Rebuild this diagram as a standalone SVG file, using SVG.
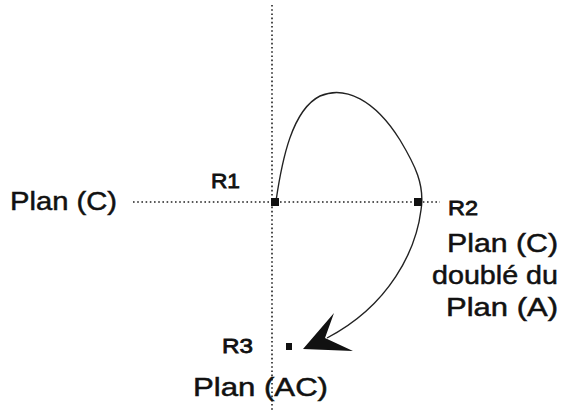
<svg xmlns="http://www.w3.org/2000/svg" width="571" height="412" viewBox="0 0 571 412">
<style>
.t{font-family:"Liberation Sans",Arial,sans-serif;fill:#111;stroke:#111;stroke-width:0.5}
.big{font-size:26px}
.r{font-size:21px;stroke-width:0.8}
.dot{stroke:#222;stroke-width:1.6;stroke-dasharray:1.6 2.6;fill:none}
.pt{fill:#111}
</style>
<rect width="571" height="412" fill="#fff"/>
<g id="axes">
<line class="dot" x1="272" y1="5" x2="272" y2="412" stroke="#666"/>
<line class="dot" x1="133" y1="202" x2="440" y2="202"/>
</g>
<g id="connectors">
<path d="M276,201 C282,160 292,110 320,96 C345,85 375,100 400,140 C415,165 425,185 421,210 C416,250 390,305 327,338" fill="none" stroke="#222" stroke-width="1.4"/>
<polygon points="303,349 334,313 325,338 353,351" fill="#111"/>
</g>
<g id="R1">
<rect class="pt" x="271" y="198" width="8" height="8"/>
<text class="t r" x="211" y="188" textLength="29" lengthAdjust="spacingAndGlyphs">R1</text>
</g>
<g id="R2">
<rect class="pt" x="414" y="198" width="8" height="8"/>
<text class="t r" x="448" y="215" textLength="30" lengthAdjust="spacingAndGlyphs">R2</text>
</g>
<g id="R3">
<rect class="pt" x="286" y="343" width="6" height="7"/>
<text class="t r" x="222" y="353" textLength="31" lengthAdjust="spacingAndGlyphs">R3</text>
</g>
<g id="planC">
<text class="t big" x="10" y="210" textLength="107" lengthAdjust="spacingAndGlyphs">Plan (C)</text>
</g>
<g id="planCA">
<text class="t big" x="447" y="252" textLength="111" lengthAdjust="spacingAndGlyphs">Plan (C)</text>
<text class="t big" x="432" y="284" textLength="126" lengthAdjust="spacingAndGlyphs">doublé du</text>
<text class="t big" x="446" y="316" textLength="112" lengthAdjust="spacingAndGlyphs">Plan (A)</text>
</g>
<g id="planAC">
<text class="t big" x="193" y="396" textLength="135" lengthAdjust="spacingAndGlyphs">Plan (AC)</text>
</g>
</svg>
